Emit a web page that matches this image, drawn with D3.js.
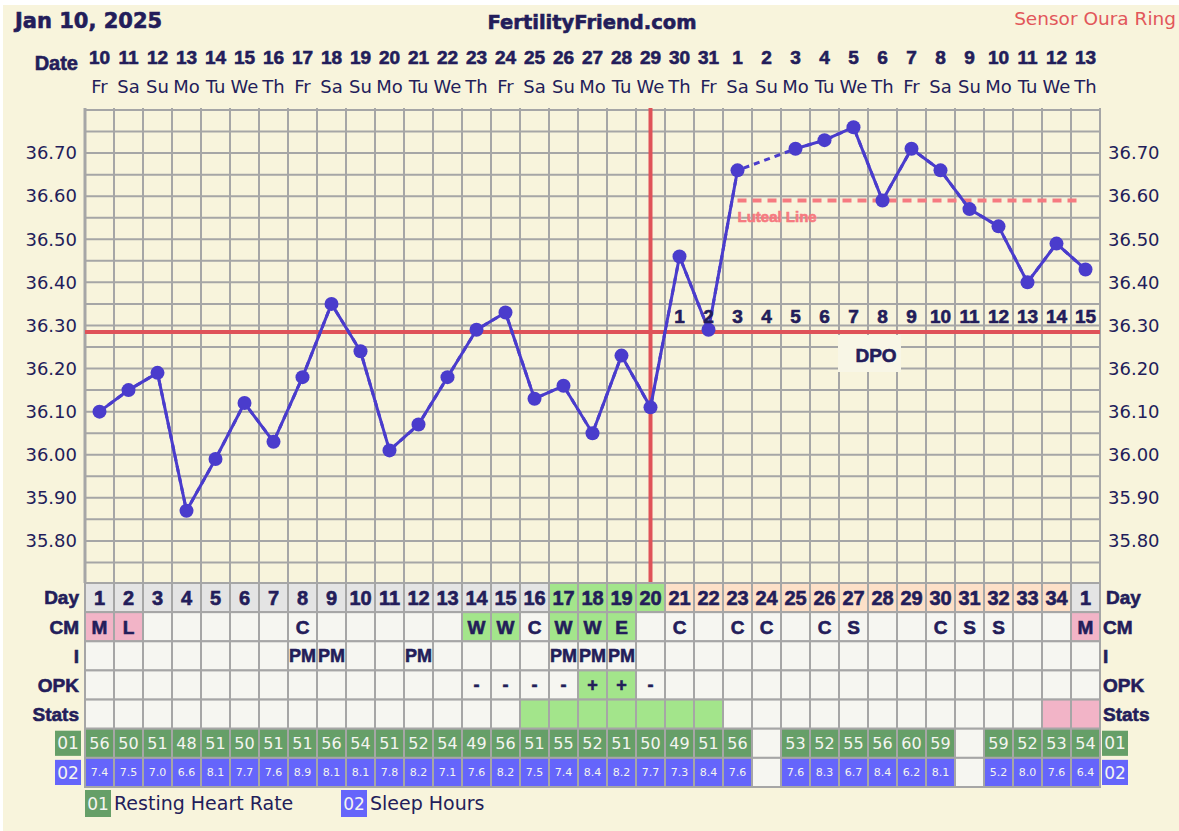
<!DOCTYPE html>
<html><head><meta charset="utf-8">
<script src="https://cdn.jsdelivr.net/npm/d3@7"></script>
<style>
html,body{margin:0;padding:0;background:#fff;}
svg{display:block;}
.heavy{stroke-width:0.6px;paint-order:stroke;}
</style></head>
<body>
<svg id="chart" width="1179" height="831"></svg>
<script>
// ---------- DATA ----------
const dates = [10,11,12,13,14,15,16,17,18,19,20,21,22,23,24,25,26,27,28,29,30,31,1,2,3,4,5,6,7,8,9,10,11,12,13];
const weekdays = ["Fr","Sa","Su","Mo","Tu","We","Th","Fr","Sa","Su","Mo","Tu","We","Th","Fr","Sa","Su","Mo","Tu","We","Th","Fr","Sa","Su","Mo","Tu","We","Th","Fr","Sa","Su","Mo","Tu","We","Th"];
const temps = [36.10,36.15,36.19,35.87,35.99,36.12,36.03,36.18,36.35,36.24,36.01,36.07,36.18,36.29,36.33,36.13,36.16,36.05,36.23,36.11,36.46,36.29,36.66,null,36.71,36.73,36.76,36.59,36.71,36.66,36.57,36.53,36.40,36.49,36.43];
const cycleDays = [1,2,3,4,5,6,7,8,9,10,11,12,13,14,15,16,17,18,19,20,21,22,23,24,25,26,27,28,29,30,31,32,33,34,1];
const dayPhase = ["n","n","n","n","n","n","n","n","n","n","n","n","n","n","n","n","f","f","f","f","l","l","l","l","l","l","l","l","l","l","l","l","l","l","n"];
const cm = ["M","L","","","","","","C","","","","","","W","W","C","W","W","E","","C","","C","C","","C","S","","","C","S","S","","","M"];
const intercourse = ["","","","","","","","PM","PM","","","PM","","","","","PM","PM","PM","","","","","","","","","","","","","","","",""];
const opk = ["","","","","","","","","","","","","","-","-","-","-","+","+","-","","","","","","","","","","","","","","",""];
const stats = ["","","","","","","","","","","","","","","","g","g","g","g","g","g","g","","","","","","","","","","","","p","p"];
const restingHR = [56,50,51,48,51,50,51,51,56,54,51,52,54,49,56,51,55,52,51,50,49,51,56,null,53,52,55,56,60,59,null,59,52,53,54];
const sleepHours = [7.4,7.5,7.0,6.6,8.1,7.7,7.6,8.9,8.1,8.1,7.8,8.2,7.1,7.6,8.2,7.5,7.4,8.4,8.2,7.7,7.3,8.4,7.6,null,7.6,8.3,6.7,8.4,6.2,8.1,null,5.2,8.0,7.6,6.4];
const dpoLabels = [1,2,3,4,5,6,7,8,9,10,11,12,13,14,15];
const dpoStart = 20;          // index of first DPO day
const ovulationIndex = 19;    // Jan 29
const coverline = 36.285;
const lutealLine = 36.59;
const lutealStart = 22, lutealEnd = 34;
const yTicks = [35.80,35.90,36.00,36.10,36.20,36.30,36.40,36.50,36.60,36.70];
const rowNames = ["Day","CM","I","OPK","Stats","01","02"];
const legendItems = [{code:"01",label:"Resting Heart Rate"},{code:"02",label:"Sleep Hours"}];

// ---------- STYLE ----------
const C = {
  bg:"#f8f4dc", grid:"#a6a6a6", text:"#231d5a", line:"#4a3ccc", red:"#df5258",
  luteal:"#f67a80", cell:"#f6f6f1", dayGray:"#e4e4e4", green:"#a3e58b", peach:"#fde0c8",
  pink:"#f2b4c7", hr:"#669f68", sleep:"#6565fb", sensor:"#e2575a"
};
const BOLD = "'Liberation Sans',Arial,sans-serif";
const REG = "'DejaVu Sans',Verdana,sans-serif";

const svg = d3.select("#chart");
svg.append("rect").attr("x",3).attr("y",5).attr("width",1176).attr("height",826).attr("fill",C.bg);

const n = dates.length;
const x = d3.scaleBand().domain(d3.range(n)).range([85,1100]).paddingInner(0).paddingOuter(0);
const cx = i => x(i) + x.bandwidth()/2;
const y = d3.scaleLinear().domain([35.70,36.80]).range([584,110]);
const gridTop = 108, gridBottom = 583;

function heavy(sel, color){ return sel.attr("class","heavy").attr("stroke",color); }

// header
heavy(svg.append("text").attr("x",15).attr("y",28).attr("font-family",REG).attr("font-weight","bold")
  .attr("font-size",21).attr("fill",C.text).text("Jan 10, 2025"), C.text).attr("stroke-width",0.3);
heavy(svg.append("text").attr("x",592).attr("y",29).attr("text-anchor","middle").attr("font-family",REG)
  .attr("font-weight","bold").attr("font-size",19.5).attr("fill",C.text).text("FertilityFriend.com"), C.text).attr("stroke-width",0.4);
svg.append("text").attr("x",1176).attr("y",25).attr("text-anchor","end").attr("font-family",REG)
  .attr("font-size",18.5).attr("fill",C.sensor).text("Sensor Oura Ring");

// date rows
heavy(svg.append("text").attr("x",78).attr("y",70).attr("text-anchor","end").attr("font-family",BOLD)
  .attr("font-weight","bold").attr("font-size",20).attr("fill",C.text).text("Date"), C.text);
heavy(svg.append("g").selectAll("text").data(dates).join("text")
  .attr("x",(d,i)=>cx(i)).attr("y",64).attr("text-anchor","middle").attr("font-family",BOLD)
  .attr("font-weight","bold").attr("font-size",19).attr("fill",C.text).text(d=>d), C.text);
svg.append("g").selectAll("text").data(weekdays).join("text")
  .attr("x",(d,i)=>cx(i)).attr("y",93).attr("text-anchor","middle").attr("font-family",REG)
  .attr("font-size",18).attr("fill",C.text).text(d=>d);

// grid
const grid = svg.append("g").attr("stroke",C.grid).attr("stroke-width",2);
grid.selectAll("line.h").data(d3.range(0,22).map(k=>+(35.75+k*0.05).toFixed(2))).join("line")
  .attr("x1",85).attr("x2",1100).attr("y1",d=>y(d)).attr("y2",d=>y(d));
grid.selectAll("line.v").data(d3.range(n+1)).join("line")
  .attr("x1",i=>85+i*x.bandwidth()).attr("x2",i=>85+i*x.bandwidth()).attr("y1",gridTop).attr("y2",gridBottom)
  .attr("stroke-width",(d,i)=> i===0 ? 3 : 2);

// y axes
const axL = svg.append("g").attr("transform","translate(85,0)")
  .call(d3.axisLeft(y).tickValues(yTicks).tickFormat(d3.format(".2f")).tickSize(0).tickPadding(8));
const axR = svg.append("g").attr("transform","translate(1100,0)")
  .call(d3.axisRight(y).tickValues(yTicks).tickFormat(d3.format(".2f")).tickSize(0).tickPadding(8));
[axL,axR].forEach(a=>{
  a.select(".domain").remove();
  a.selectAll("text").attr("font-family",REG).attr("font-size",18).attr("fill",C.text);
});

// DPO box
svg.append("rect").attr("x",838).attr("y",335).attr("width",63).attr("height",37).attr("fill","#f8f6e6");
heavy(svg.append("text").attr("x",876).attr("y",362).attr("text-anchor","middle").attr("font-family",BOLD)
  .attr("font-weight","bold").attr("font-size",19).attr("fill",C.text).text("DPO"), C.text);

// coverline & ovulation line
svg.append("line").attr("x1",85).attr("x2",1100).attr("y1",y(coverline)).attr("y2",y(coverline))
  .attr("stroke",C.red).attr("stroke-width",4);
svg.append("line").attr("x1",cx(ovulationIndex)).attr("x2",cx(ovulationIndex)).attr("y1",gridTop).attr("y2",gridBottom)
  .attr("stroke",C.red).attr("stroke-width",4);

// luteal line
svg.append("line").attr("x1",cx(lutealStart)).attr("x2",cx(lutealEnd)-5).attr("y1",y(lutealLine)).attr("y2",y(lutealLine))
  .attr("stroke",C.luteal).attr("stroke-width",4).attr("stroke-dasharray","9,6");
heavy(svg.append("text").attr("x",cx(lutealStart)).attr("y",222).attr("font-family",BOLD).attr("font-weight","bold")
  .attr("font-size",15).attr("fill",C.luteal).text("Luteal Line"), C.luteal).attr("stroke-width",0.8);

// temperature line
const pts = temps.map((t,i)=>({i,t}));
const line = d3.line().defined(d=>d.t!==null).x(d=>cx(d.i)).y(d=>y(d.t));
svg.append("path").datum(pts.filter(d=>d.t!==null)).attr("d",line).attr("fill","none")
  .attr("stroke",C.line).attr("stroke-width",3).attr("stroke-dasharray","6,5");
svg.append("path").datum(pts).attr("d",line).attr("fill","none").attr("stroke",C.line).attr("stroke-width",3);
svg.append("g").selectAll("circle").data(pts.filter(d=>d.t!==null)).join("circle")
  .attr("cx",d=>cx(d.i)).attr("cy",d=>y(d.t)).attr("r",7).attr("fill",C.line);

// DPO numbers
heavy(svg.append("g").selectAll("text").data(dpoLabels).join("text")
  .attr("x",(d,k)=>cx(dpoStart+k)).attr("y",323).attr("text-anchor","middle").attr("font-family",BOLD)
  .attr("font-weight","bold").attr("font-size",19).attr("fill",C.text).text(d=>d), C.text);

// ---------- TABLE ----------
const rowY = d3.scaleBand().domain(rowNames).range([583,787]);
const rh = rowY.bandwidth();
function cellRow(name, fillFn, textFn, fontFam, fontSize, weight, color){
  const g = svg.append("g");
  g.selectAll("rect").data(d3.range(n)).join("rect")
    .attr("x",i=>x(i)).attr("y",rowY(name)).attr("width",x.bandwidth()).attr("height",rh)
    .attr("fill",fillFn).attr("stroke",C.grid).attr("stroke-width",2);
  const t = g.selectAll("text").data(d3.range(n)).join("text")
    .attr("x",i=>cx(i)).attr("y",rowY(name)+rh/2).attr("dy","0.36em").attr("text-anchor","middle")
    .attr("font-family",fontFam).attr("font-size",fontSize).attr("font-weight",weight).attr("fill",color)
    .text(textFn);
  if (weight==="bold") heavy(t, color);
}
cellRow("Day", i=>dayPhase[i]==="f"?C.green:dayPhase[i]==="l"?C.peach:C.dayGray, i=>cycleDays[i], BOLD, 20, "bold", C.text);
cellRow("CM", i=>(cm[i]==="M"||cm[i]==="L")?C.pink:(cm[i]==="W"||cm[i]==="E")?C.green:C.cell, i=>cm[i], BOLD, 19, "bold", C.text);
cellRow("I", i=>C.cell, i=>intercourse[i], BOLD, 18, "bold", C.text);
cellRow("OPK", i=>opk[i]==="+"?C.green:C.cell, i=>opk[i], BOLD, 18, "bold", C.text);
cellRow("Stats", i=>stats[i]==="g"?C.green:stats[i]==="p"?C.pink:C.cell, i=>"", BOLD, 18, "bold", C.text);
cellRow("01", i=>restingHR[i]===null?C.cell:C.hr, i=>restingHR[i]===null?"":restingHR[i], REG, 16, "normal", "#f4f4f0");
cellRow("02", i=>sleepHours[i]===null?C.cell:C.sleep, i=>sleepHours[i]===null?"":d3.format(".1f")(sleepHours[i]), REG, 11, "normal", "#f4f4f0");

// row labels
const labelRows = ["Day","CM","I","OPK","Stats"];
heavy(svg.append("g").selectAll("text").data(labelRows).join("text")
  .attr("x",79).attr("y",d=>rowY(d)+rh/2).attr("dy","0.36em").attr("text-anchor","end")
  .attr("font-family",BOLD).attr("font-weight","bold").attr("font-size",19).attr("fill",C.text).text(d=>d), C.text);
heavy(svg.append("g").selectAll("text").data(labelRows).join("text")
  .attr("x",d=>d==="Day"?1106:1103).attr("y",d=>rowY(d)+rh/2).attr("dy","0.36em").attr("text-anchor","start")
  .attr("font-family",BOLD).attr("font-weight","bold").attr("font-size",19).attr("fill",C.text).text(d=>d), C.text);

// code boxes beside 01/02 rows
const codeColor = {"01":C.hr,"02":C.sleep};
["01","02"].forEach(code=>{
  [55,1102].forEach(bx=>{
    svg.append("rect").attr("x",bx).attr("y",rowY(code)+2).attr("width",26).attr("height",rh-4).attr("fill",codeColor[code]);
    svg.append("text").attr("x",bx+13).attr("y",rowY(code)+rh/2).attr("dy","0.36em").attr("text-anchor","middle")
      .attr("font-family",REG).attr("font-size",17).attr("fill","#f4f4f0").text(code);
  });
});

// legend
const legX = [85,341];
legendItems.forEach((it,k)=>{
  svg.append("rect").attr("x",legX[k]).attr("y",790).attr("width",26).attr("height",27).attr("fill",codeColor[it.code]);
  svg.append("text").attr("x",legX[k]+13).attr("y",803.5).attr("dy","0.36em").attr("text-anchor","middle")
    .attr("font-family",REG).attr("font-size",17).attr("fill","#f4f4f0").text(it.code);
  svg.append("text").attr("x",legX[k]+29).attr("y",803.5).attr("dy","0.36em")
    .attr("font-family",REG).attr("font-size",19).attr("fill",C.text).text(it.label);
});
</script>
</body></html>
